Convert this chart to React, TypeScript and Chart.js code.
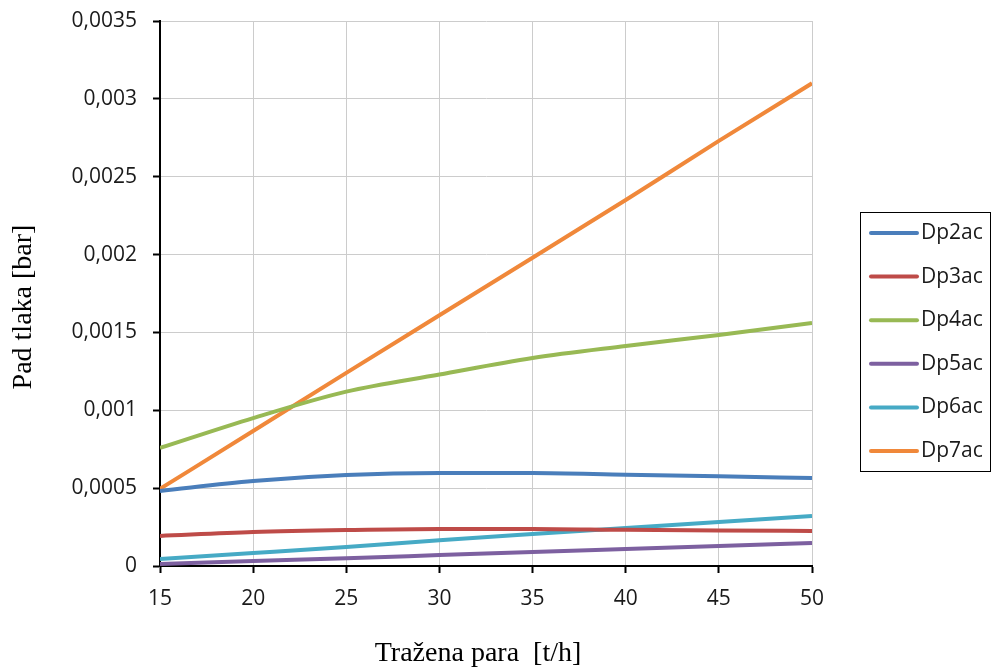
import React, { useEffect, useRef } from "react";
import { Chart, registerables } from "chart.js";

Chart.register(...registerables);

const xValues = [15, 20, 25, 30, 35, 40, 45, 50];
const dp2ac = [0.000482, 0.000546, 0.000584, 0.000597, 0.000597, 0.000586, 0.000576, 0.000565];
const dp3ac = [0.000193, 0.000218, 0.000231, 0.000238, 0.000238, 0.000232, 0.000228, 0.000225];
const dp4ac = [0.000758, 0.00095, 0.00112, 0.00123, 0.001336, 0.001413, 0.001484, 0.00156];
const dp5ac = [0.000013, 0.000032, 0.00005, 0.00007, 0.00009, 0.000109, 0.000128, 0.000148];
const dp6ac = [0.000045, 0.000083, 0.000122, 0.000165, 0.000205, 0.000244, 0.000283, 0.000321];
const dp7ac = [0.000495, 0.000867, 0.00124, 0.00161, 0.00198, 0.00235, 0.00273, 0.0031];

const seriesNames = ["Dp2ac", "Dp3ac", "Dp4ac", "Dp5ac", "Dp6ac", "Dp7ac"];
const seriesValues = [dp2ac, dp3ac, dp4ac, dp5ac, dp6ac, dp7ac];
const seriesColors = ["#4A7EBB", "#BE4B48", "#98B954", "#7D60A0", "#46AAC5", "#F0883A"];

const xTitle = "Tražena para  [t/h]";
const yTitle = "Pad tlaka [bar]";

const legendPlugin = {
  id: "boxLegend",
  afterDraw(chart: any) {
    const ctx = chart.ctx;
    ctx.save();
    ctx.strokeStyle = "#000";
    ctx.lineWidth = 1;
    ctx.strokeRect(860.5, 212.5, 130, 259);
    const sets = chart.data.datasets;
    sets.forEach((ds: any, i: number) => {
      const y = 233 + i * 43.6;
      ctx.beginPath();
      ctx.strokeStyle = ds.borderColor;
      ctx.lineWidth = 4;
      ctx.lineCap = "round";
      ctx.moveTo(871, y);
      ctx.lineTo(917, y);
      ctx.stroke();
      ctx.fillStyle = "#1a1a1a";
      ctx.font = "21px 'Open Sans'";
      ctx.textBaseline = "middle";
      ctx.textAlign = "left";
      ctx.fillText(ds.label, 921, y);
    });
    ctx.restore();
  },
};

const titlePlugin = {
  id: "axisTitles",
  afterDraw(chart: any) {
    const ctx = chart.ctx;
    ctx.save();
    ctx.fillStyle = "#000";
    ctx.font = "28px 'Liberation Serif'";
    ctx.textAlign = "center";
    ctx.textBaseline = "alphabetic";
    ctx.fillText(xTitle, 478, 661);
    ctx.translate(31, 307);
    ctx.rotate(-Math.PI / 2);
    ctx.fillText(yTitle, 0, 0);
    ctx.restore();
  },
};

export default function App() {
  const ref = useRef<HTMLCanvasElement | null>(null);
  useEffect(() => {
    if (!ref.current) return;
    const chart = new Chart(ref.current, {
      type: "line",
      data: {
        datasets: seriesNames.map((name, i) => ({
          label: name,
          data: xValues.map((x, j) => ({ x, y: seriesValues[i][j] })),
          borderColor: seriesColors[i],
          backgroundColor: seriesColors[i],
          borderWidth: 4,
          pointRadius: 0,
          cubicInterpolationMode: "monotone" as const,
          fill: false,
        })),
      },
      options: {
        animation: false,
        responsive: false,
        devicePixelRatio: 1,
        layout: { padding: { left: 0, top: 21, right: 179, bottom: 0 } },
        plugins: { legend: { display: false }, tooltip: { enabled: false } },
        scales: {
          x: {
            type: "linear",
            min: 15,
            max: 50,
            ticks: {
              stepSize: 5,
              color: "#1a1a1a",
              font: { family: "'Open Sans'", size: 21 },
              padding: 13,
              maxRotation: 0,
            },
            grid: { color: "#cccccc", lineWidth: 1, tickColor: "#000", tickWidth: 2, tickLength: 7 },
            border: { color: "#000", width: 2 },
            afterFit(scale: any) {
              scale.height = 102;
              scale.paddingLeft = 0;
              scale.paddingRight = 0;
            },
          },
          y: {
            min: 0,
            max: 0.0035,
            ticks: {
              stepSize: 0.0005,
              color: "#1a1a1a",
              font: { family: "'Open Sans'", size: 21 },
              padding: 16,
              callback: (v: any) => parseFloat(Number(v).toFixed(4)).toString().replace(".", ","),
            },
            grid: { color: "#cccccc", lineWidth: 1, tickColor: "#000", tickWidth: 2, tickLength: 7 },
            border: { color: "#000", width: 2 },
            afterFit(scale: any) {
              scale.width = 160;
              scale.paddingTop = 0;
              scale.paddingBottom = 0;
            },
          },
        },
      },
      plugins: [legendPlugin, titlePlugin],
    });
    return () => chart.destroy();
  }, []);
  return (
    <div style={{ position: "absolute", left: 0, top: 0, width: 991, height: 668, background: "#fff" }}>
      <canvas ref={ref} width={991} height={668} />
    </div>
  );
}
